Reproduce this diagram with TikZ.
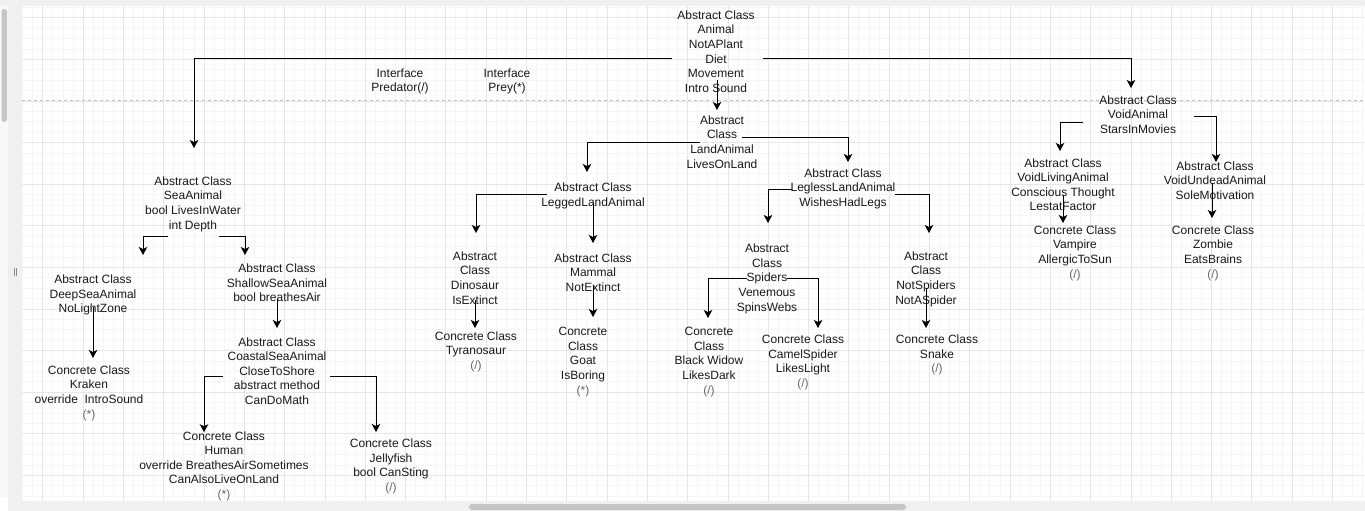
\documentclass[tikz,border=0pt]{standalone}
\usepackage{fontspec}
\setmainfont{Liberation Sans}
\usepackage{xcolor}
\usepackage{tikz}
\usetikzlibrary{arrows.meta}
\definecolor{gridminor}{RGB}{246,246,246}
\definecolor{gridmajor}{RGB}{230,230,230}
\definecolor{pagebreak}{RGB}{195,195,195}
\definecolor{chrome}{RGB}{240,240,240}
\definecolor{chromelight}{RGB}{248,248,248}
\definecolor{chromedark}{RGB}{198,198,198}
\definecolor{classtext}{RGB}{25,25,25}
\definecolor{notetext}{RGB}{105,105,105}
\newcommand{\kind}[1]{\textcolor{notetext}{#1}}

\begin{document}
\begin{tikzpicture}[x=1pt,y=-1pt,
  cls/.style={anchor=north, align=center, inner sep=0pt, text=classtext,
    font=\fontsize{12}{14.6}\selectfont},
  link/.style={draw=black, line width=1pt,
    -{Stealth[length=8pt,width=8.5pt,inset=2pt]}}]
\useasboundingbox (0,0) rectangle (1365,511);
\fill[white] (0,0) rectangle (1365,511);

% canvas grid
\begin{scope}
\clip (22,6) rectangle (1364,501);
\foreach \i in {0,...,136} \draw[gridminor, line width=0.6pt] ({2.4+10.075*\i},6) -- ++(0,495);
\foreach \j in {0,...,48} \draw[gridminor, line width=0.6pt] (22,{7.3+10.4*\j}) -- ++(1343,0);
\foreach \i in {0,...,34} \draw[gridmajor, line width=0.6pt] ({2.4+40.3*\i},6) -- ++(0,495);
\foreach \j in {0,...,12} \draw[gridmajor, line width=0.6pt] (22,{17.7+41.6*\j}) -- ++(1343,0);
\end{scope}
\draw[pagebreak, line width=0.7pt, dash pattern=on 3pt off 3pt] (22,100) -- (1365,100);

% editor frame
\fill[chrome] (0,0) rectangle (1365,6);
\fill[chromelight] (0,6) rectangle (8,497);
\fill[chrome] (8,6) rectangle (22,511);
\fill[chrome] (22,501) rectangle (1365,511);
\fill[chromedark, rounded corners=2.5pt] (1.5,9) rectangle (7,122);
\fill[chromedark, rounded corners=3pt] (469,504) rectangle (906,510);
\draw[black!45, line width=0.6pt] (14,268) -- (14,276) (16.5,268) -- (16.5,276);

% classes
\node[cls] (Animal) at (716,10.5) {Abstract Class\\Animal\\NotAPlant\\Diet\\Movement\\Intro Sound};
\node[cls] (Predator) at (400,68.5) {Interface\\Predator(/)};
\node[cls] (Prey) at (507,68.5) {Interface\\Prey(*)};

\node[cls] (SeaAnimal) at (193,176.5) {Abstract Class\\SeaAnimal\\bool LivesInWater\\int Depth};
\node[cls] (DeepSeaAnimal) at (93,274.8) {Abstract Class\\DeepSeaAnimal\\NoLightZone};
\node[cls] (ShallowSeaAnimal) at (277,263.8) {Abstract Class\\ShallowSeaAnimal\\bool breathesAir};
\node[cls] (CoastalSeaAnimal) at (277,337.2) {Abstract Class\\CoastalSeaAnimal\\CloseToShore\\abstract method\\CanDoMath};
\node[cls] (Kraken) at (89,365.5) {Concrete Class\\Kraken\\override\ \ IntroSound\\\kind{(*)}};
\node[cls] (Human) at (224,431.2) {Concrete Class\\Human\\override BreathesAirSometimes\\CanAlsoLiveOnLand\\\kind{(*)}};
\node[cls] (Jellyfish) at (391,438.8) {Concrete Class\\Jellyfish\\bool CanSting\\\kind{(/)}};

\node[cls] (LandAnimal) at (722,115.5) {Abstract\\Class\\LandAnimal\\LivesOnLand};
\node[cls] (LeggedLandAnimal) at (593,182.8) {Abstract Class\\LeggedLandAnimal};
\node[cls] (LeglessLandAnimal) at (843,168.2) {Abstract Class\\LeglessLandAnimal\\WishesHadLegs};
\node[cls] (Dinosaur) at (475,251.5) {Abstract\\Class\\Dinosaur\\IsExtinct};
\node[cls] (Tyranosaur) at (476,331.5) {Concrete Class\\Tyranosaur\\\kind{(/)}};
\node[cls] (Mammal) at (593,253.2) {Abstract Class\\Mammal\\NotExtinct};
\node[cls] (Goat) at (583,327.2) {Concrete\\Class\\Goat\\IsBoring\\\kind{(*)}};
\node[cls] (Spiders) at (767,243.8) {Abstract\\Class\\Spiders\\Venemous\\SpinsWebs};
\node[cls] (BlackWidow) at (709,327.2) {Concrete\\Class\\Black Widow\\LikesDark\\\kind{(/)}};
\node[cls] (CamelSpider) at (803,334.8) {Concrete Class\\CamelSpider\\LikesLight\\\kind{(/)}};
\node[cls] (NotSpiders) at (926,251.5) {Abstract\\Class\\NotSpiders\\NotASpider};
\node[cls] (Snake) at (937,334.8) {Concrete Class\\Snake\\\kind{(/)}};

\node[cls] (VoidAnimal) at (1138,95.5) {Abstract Class\\VoidAnimal\\StarsInMovies};
\node[cls] (VoidLivingAnimal) at (1063,158.2) {Abstract Class\\VoidLivingAnimal\\Conscious Thought\\LestatFactor};
\node[cls] (VoidUndeadAnimal) at (1215,161.5) {Abstract Class\\VoidUndeadAnimal\\SoleMotivation};
\node[cls] (Vampire) at (1075,225.5) {Concrete Class\\Vampire\\AllergicToSun\\\kind{(/)}};
\node[cls] (Zombie) at (1213,225.5) {Concrete Class\\Zombie\\EatsBrains\\\kind{(/)}};

% inheritance
\draw[link] ([xshift=-44pt,yshift=-48.5pt]Animal.north) -| ([xshift=1pt,yshift=28.5pt]SeaAnimal.north);
\draw[link] ([xshift=47pt,yshift=-48.5pt]Animal.north) -| ([xshift=-7pt,yshift=7.5pt]VoidAnimal.north);
\draw[link] ([xshift=1pt,yshift=-69.5pt]Animal.north) -- ([xshift=-5pt,yshift=5.5pt]LandAnimal.north);

\draw[link] ([xshift=-25pt,yshift=-59.5pt]SeaAnimal.north) -| ([xshift=50pt,yshift=19.8pt]DeepSeaAnimal.north);
\draw[link] ([xshift=26pt,yshift=-59.5pt]SeaAnimal.north) -| ([xshift=-32pt,yshift=8.8pt]ShallowSeaAnimal.north);
\draw[link] ([yshift=-32.2pt]DeepSeaAnimal.north) -- ([xshift=4pt,yshift=7.5pt]Kraken.north);
\draw[link] ([yshift=-34pt]ShallowSeaAnimal.north) -- ([yshift=9.2pt]CoastalSeaAnimal.north);
\draw[link] ([xshift=-54pt,yshift=-38.8pt]CoastalSeaAnimal.north) -| ([xshift=-20pt,yshift=-1pt]Human.north);
\draw[link] ([xshift=53pt,yshift=-38.8pt]CoastalSeaAnimal.north) -| ([xshift=-15pt,yshift=6.8pt]Jellyfish.north);

\draw[link] ([xshift=-22pt,yshift=-27.2pt]LandAnimal.north) -| ([xshift=-6pt,yshift=10.8pt]LeggedLandAnimal.north);
\draw[link] ([xshift=20pt,yshift=-21.5pt]LandAnimal.north) -| ([xshift=5pt,yshift=6.2pt]LeglessLandAnimal.north);
\draw[link] ([xshift=-46pt,yshift=-11.2pt]LeggedLandAnimal.north) -| ([xshift=1pt,yshift=18.5pt]Dinosaur.north);
\draw[link] ([yshift=-20.2pt]LeggedLandAnimal.north) -- ([yshift=10.2pt]Mammal.north);
\draw[link] ([yshift=-48.5pt]Dinosaur.north) -- ([xshift=-1pt,yshift=3.5pt]Tyranosaur.north);
\draw[link] ([yshift=-31.8pt]Mammal.north) -- ([xshift=10pt,yshift=10.2pt]Goat.north);
\draw[link] ([xshift=-51pt,yshift=-20.8pt]LeglessLandAnimal.north) -| ([xshift=1pt,yshift=20.8pt]Spiders.north);
\draw[link] ([xshift=52pt,yshift=-25.8pt]LeglessLandAnimal.north) -| ([xshift=3pt,yshift=18.5pt]NotSpiders.north);
\draw[link] ([xshift=-20pt,yshift=-34.2pt]Spiders.north) -| ([xshift=-1pt,yshift=9.2pt]BlackWidow.north);
\draw[link] ([xshift=20pt,yshift=-34.2pt]Spiders.north) -| ([xshift=15pt,yshift=6.8pt]CamelSpider.north);
\draw[link] ([yshift=-36.5pt]NotSpiders.north) -- ([xshift=-11pt,yshift=6.8pt]Snake.north);

\draw[link] ([xshift=-55pt,yshift=-26.5pt]VoidAnimal.north) -| ([xshift=-3pt,yshift=7.2pt]VoidLivingAnimal.north);
\draw[link] ([xshift=56pt,yshift=-20.5pt]VoidAnimal.north) -| ([xshift=1pt,yshift=-0.5pt]VoidUndeadAnimal.north);
\draw[link] ([yshift=-36.8pt]VoidLivingAnimal.north) -- ([xshift=-12pt,yshift=2.5pt]Vampire.north);
\draw[link] ([xshift=-3pt,yshift=-21.5pt]VoidUndeadAnimal.north) -- ([xshift=-1pt,yshift=7.5pt]Zombie.north);
\end{tikzpicture}
\end{document}
